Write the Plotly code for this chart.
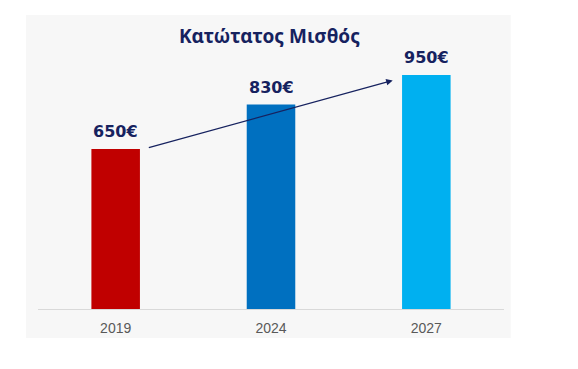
import plotly.graph_objects as go

years = ["2019", "2024", "2027"]
wages = [650, 830, 950]
labels = ["650€", "830€", "950€"]
colors = ["#C00000", "#0070C0", "#00B0F0"]
title_text = "Κατώτατος Μισθός"

navy = "#16225f"
idx = list(range(len(years)))

fig = go.Figure()
fig.add_trace(go.Bar(
    x=idx, y=wages,
    marker=dict(color=colors, line=dict(width=0)),
    width=0.3125, hoverinfo="skip",
))

for i, (v, t) in enumerate(zip(wages, labels)):
    fig.add_annotation(x=i, y=v, xref="x", yref="y", text=t, showarrow=False,
                       yanchor="bottom", yshift=6,
                       font=dict(family="DejaVu Sans", size=16, color=navy, weight="bold"))

# trend arrow from first bar towards last bar
fig.add_annotation(
    x=1.7835, y=wages[2] - 22, ax=0.2037, ay=wages[0] + 3,
    xref="x", yref="y", axref="x", ayref="y",
    showarrow=True, arrowhead=2, arrowsize=1, arrowwidth=1.3,
    arrowcolor=navy, text="",
)

fig.add_shape(type="rect", xref="paper", yref="paper",
              x0=-0.0258, x1=1.0144, y0=-0.1078, y1=1.093,
              fillcolor="#f7f7f7", line=dict(width=0), layer="below")

fig.update_layout(
    width=578, height=369,
    margin=dict(l=30, r=82, t=32, b=68),
    paper_bgcolor="white", plot_bgcolor="rgba(0,0,0,0)",
    showlegend=False,
    title=dict(text=title_text, x=0.4524, xanchor="center",
               y=0.924, yanchor="middle", yref="container",
               font=dict(family="Noto Sans", size=19, color=navy, weight="bold")),
    xaxis=dict(tickmode="array", tickvals=idx, ticktext=years,
               range=[-0.5, 2.5], showgrid=False, zeroline=False,
               showline=True, linecolor="#d9d9d9", linewidth=1,
               tickfont=dict(family="Liberation Sans", size=14, color="#595959"),
               ticks="outside", ticklen=6, tickcolor="rgba(0,0,0,0)"),
    yaxis=dict(range=[0, 1092], visible=False, showgrid=False, zeroline=False),
)

fig.write_html("out.html")
